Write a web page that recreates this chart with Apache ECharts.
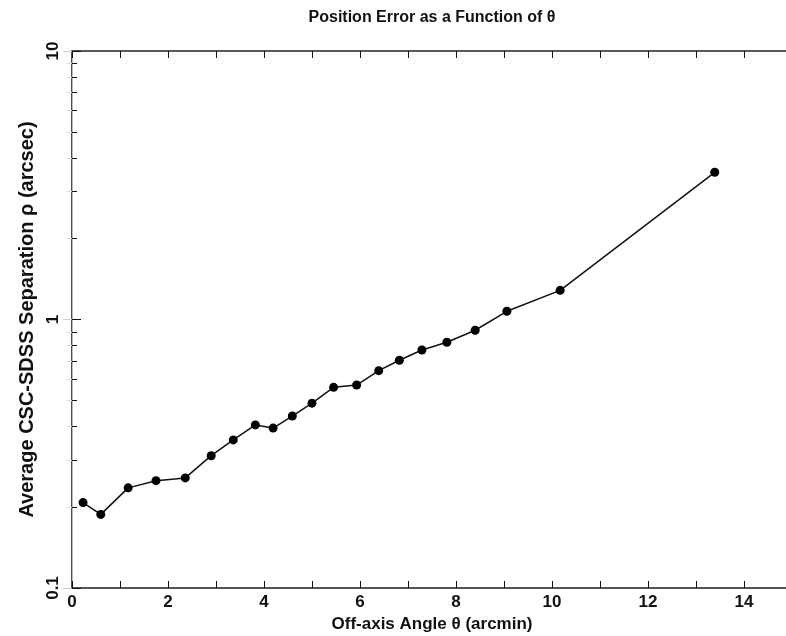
<!DOCTYPE html>
<html>
<head>
<meta charset="utf-8">
<script src="https://cdn.jsdelivr.net/npm/echarts@6/dist/echarts.min.js"></script>
<style>html,body{margin:0;padding:0;background:#fff;}#c{width:786px;height:636px;}</style>
</head>
<body>
<div id="c"></div>
<script>
const theta = [0.23, 0.60, 1.17, 1.75, 2.36, 2.90, 3.36, 3.82, 4.19, 4.59, 5.00, 5.45, 5.93, 6.39, 6.82, 7.29, 7.81, 8.40, 9.06, 10.17, 13.39];
const rho = [0.208, 0.188, 0.236, 0.251, 0.257, 0.311, 0.356, 0.405, 0.394, 0.437, 0.488, 0.559, 0.570, 0.645, 0.705, 0.770, 0.823, 0.912, 1.073, 1.284, 3.534];
const xTicks = [0, 2, 4, 6, 8, 10, 12, 14];
const yTicks = [0.1, 1, 10];

const FONT = 'Liberation Sans, Arial, sans-serif';
const chart = echarts.init(document.getElementById('c'), null, {renderer: 'canvas'});
const pts = theta.map((t, i) => [t, rho[i]]);

const xBase = {
  type: 'value', min: 0, max: 15, interval: 1,
  axisLine: {show: true, onZero: false, lineStyle: {color: '#222', width: 1.5}},
  axisTick: {show: true, inside: true, length: 7, lineStyle: {color: '#111', width: 1}},
  minorTick: {show: false},
  splitLine: {show: false}
};

chart.setOption({
  backgroundColor: '#fff',
  animation: false,
  title: {
    text: 'Position Error as a Function of \u03b8',
    left: 427, top: 5, textAlign: 'center',
    textStyle: {fontFamily: FONT, fontSize: 16, fontWeight: 'bold', color: '#111'}
  },
  grid: {left: 72, top: 51, width: 720, height: 537, containLabel: false, outerBoundsMode: 'none'},
  xAxis: [
    Object.assign({}, xBase, {
      position: 'bottom',
      name: 'Off-axis Angle \u03b8 (arcmin)', nameLocation: 'middle', nameGap: 27,
      nameTextStyle: {fontFamily: FONT, fontSize: 17, fontWeight: 'bold', color: '#111'},
      axisLine: {show: true, onZero: false, lineStyle: {color: '#555', width: 2}},
      axisLabel: {
        show: true, margin: 6, fontFamily: FONT, fontSize: 17, fontWeight: 'bold', color: '#111',
        formatter: v => xTicks.indexOf(v) >= 0 ? String(v) : ''
      }
    }),
    Object.assign({}, xBase, {
      position: 'top',
      axisLabel: {show: false}
    })
  ],
  yAxis: [
    {
      type: 'log', logBase: 10, min: 0.1, max: 10, position: 'left',
      name: 'Average CSC-SDSS Separation \u03c1 (arcsec)', nameLocation: 'middle', nameGap: 34,
      nameTextStyle: {fontFamily: FONT, fontSize: 20, fontWeight: 'bold', color: '#111'},
      axisLine: {show: true, lineStyle: {color: '#111', width: 1.5}},
      axisTick: {show: true, inside: true, length: 9, lineStyle: {color: '#111', width: 1}},
      minorTick: {show: true, splitNumber: 9, length: 5, lineStyle: {color: '#111', width: 1}},
      splitLine: {show: false},
      axisLabel: {
        show: true, rotate: 90, margin: 10, fontFamily: FONT, fontSize: 17, fontWeight: 'bold', color: '#111',
        formatter: v => {
          const m = yTicks.find(t => Math.abs(t - v) < 1e-9);
          return m === undefined ? '' : String(m);
        }
      }
    },
    {
      type: 'log', logBase: 10, min: 0.1, max: 10, position: 'right',
      axisLine: {show: true, lineStyle: {color: '#bbb', width: 1}},
      axisTick: {show: true, inside: true, length: 9, lineStyle: {color: '#ccc', width: 1}},
      minorTick: {show: true, splitNumber: 9, length: 5, lineStyle: {color: '#ddd', width: 1}},
      splitLine: {show: false},
      axisLabel: {show: false}
    }
  ],
  series: [{
    type: 'line',
    data: pts,
    xAxisIndex: 0, yAxisIndex: 0,
    symbol: 'circle', symbolSize: 9,
    lineStyle: {color: '#111', width: 1.5},
    itemStyle: {color: '#000'},
    clip: false
  }]
});
</script>
</body>
</html>
